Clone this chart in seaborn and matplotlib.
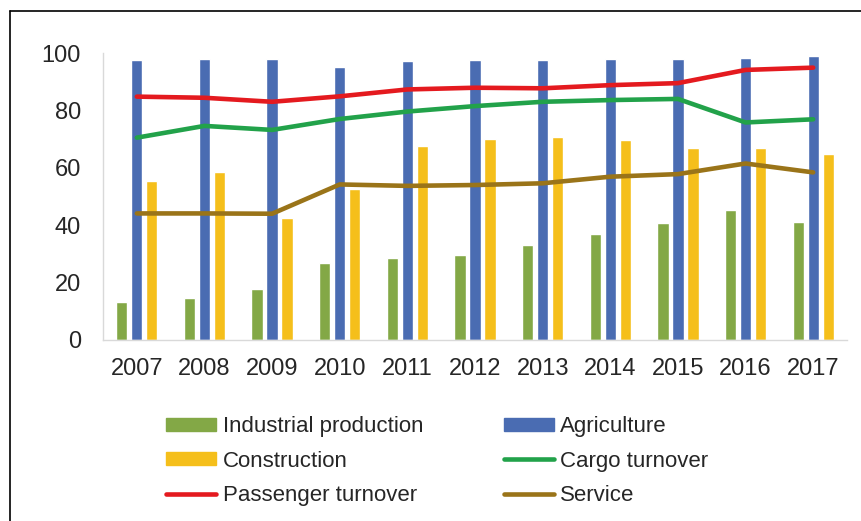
import pandas as pd
import numpy as np
import seaborn as sns
import matplotlib.pyplot as plt
from matplotlib.patches import Patch
from matplotlib.lines import Line2D

years = ["2007", "2008", "2009", "2010", "2011", "2012", "2013", "2014", "2015", "2016", "2017"]

# bar series
industrial = [13.2, 14.6, 17.8, 26.7, 28.7, 29.6, 33.0, 36.8, 40.6, 45.3, 41.2]
agriculture = [97.6, 97.8, 97.8, 95.2, 97.3, 97.6, 97.6, 97.9, 98.0, 98.3, 99.1]
construction = [55.4, 58.4, 42.4, 52.5, 67.7, 70.1, 70.6, 69.6, 66.8, 67.0, 64.8]

# line series
cargo = [70.5, 74.6, 73.2, 77.0, 79.6, 81.5, 83.0, 83.6, 84.0, 75.8, 76.9]
passenger = [84.8, 84.4, 83.0, 84.9, 87.3, 87.9, 87.7, 88.8, 89.5, 94.1, 94.9]
service = [44.1, 44.1, 44.0, 54.2, 53.7, 54.0, 54.6, 56.9, 57.8, 61.5, 58.4]

bar_colors = {"Industrial production": "#83A846",
              "Agriculture": "#4A6CB2",
              "Construction": "#F5BF1B"}
line_colors = {"Cargo turnover": "#22A24A",
               "Passenger turnover": "#E41A1F",
               "Service": "#9A7419"}

bars = pd.DataFrame({"year": years,
                     "Industrial production": industrial,
                     "Agriculture": agriculture,
                     "Construction": construction})
bars = bars.melt(id_vars="year", var_name="series", value_name="value")

lines = pd.DataFrame({"pos": range(len(years)),
                      "Cargo turnover": cargo,
                      "Passenger turnover": passenger,
                      "Service": service})
lines = lines.melt(id_vars="pos", var_name="series", value_name="value")

sns.set_style("white")
plt.rcParams["font.family"] = ["Liberation Sans", "DejaVu Sans"]

fig = plt.figure(figsize=(8.61, 5.21), dpi=100)
ax = fig.add_axes([103/861, 1 - 340/521, 744/861, 287/521])

sns.barplot(data=bars, x="year", y="value", hue="series", palette=bar_colors,
            width=0.666, gap=0.25, saturation=1, legend=False, ax=ax)
sns.lineplot(data=lines, x="pos", y="value", hue="series", palette=line_colors,
             linewidth=3.3, legend=False, ax=ax, solid_capstyle="round")

ax.set_xlim(-0.5, len(years) - 0.5)
ax.set_ylim(0, 100)
ax.set_yticks(range(0, 101, 20))
ax.set_xlabel("")
ax.set_ylabel("")
ax.tick_params(axis="both", length=0, labelsize=17, labelcolor="#262626")
ax.tick_params(axis="y", pad=16)
ax.tick_params(axis="x", pad=13)
for side in ["top", "right"]:
    ax.spines[side].set_visible(False)
for side in ["left", "bottom"]:
    ax.spines[side].set_color("#d9d9d9")
    ax.spines[side].set_linewidth(1)

# legend, filled column by column
handles = [Patch(color=bar_colors["Industrial production"]),
           Patch(color=bar_colors["Construction"]),
           Line2D([], [], color=line_colors["Passenger turnover"], lw=3.3, solid_capstyle="round"),
           Patch(color=bar_colors["Agriculture"]),
           Line2D([], [], color=line_colors["Cargo turnover"], lw=3.3, solid_capstyle="round"),
           Line2D([], [], color=line_colors["Service"], lw=3.3, solid_capstyle="round")]
labels = ["Industrial production", "Construction", "Passenger turnover",
          "Agriculture", "Cargo turnover", "Service"]
fig.legend(handles, labels, ncol=2, loc="center", bbox_to_anchor=(0.508, 0.115),
           frameon=False, fontsize=16, handlelength=2.25, handleheight=0.5,
           handletextpad=0.3, columnspacing=3.6, labelspacing=0.6,
           labelcolor="#262626")

# frame lines of the original picture (left and top only)
fig.add_artist(Line2D([9.5/861, 9.5/861], [0, 1 - 10.5/521], color="black", lw=1.2,
                      transform=fig.transFigure))
fig.add_artist(Line2D([9.5/861, 1], [1 - 10.5/521, 1 - 10.5/521], color="black", lw=1.2,
                      transform=fig.transFigure))

fig.savefig("out.png", dpi=100)
